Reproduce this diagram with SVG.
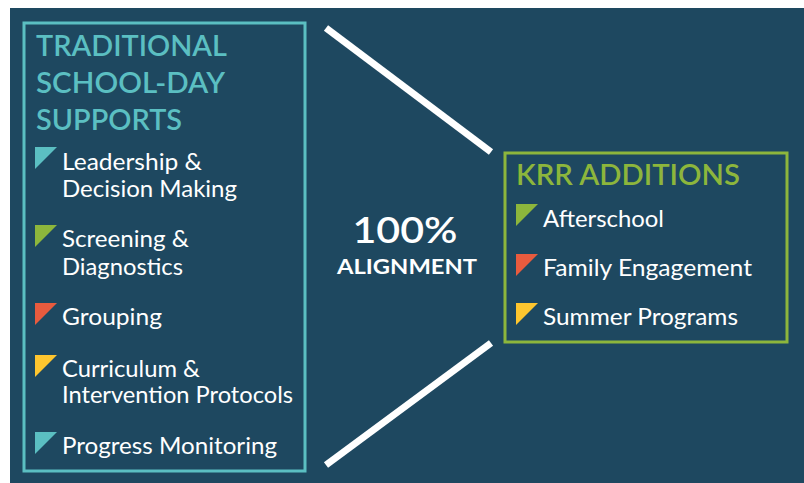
<svg xmlns="http://www.w3.org/2000/svg" width="804" height="483" viewBox="0 0 804 483">
  <defs>
    <style>
      .bg { fill: #1e4860; }
      .frame-teal { fill: none; stroke: #5bbfc2; stroke-width: 3; }
      .frame-green { fill: none; stroke: #8db63c; stroke-width: 3; }
      .link { stroke: #ffffff; stroke-width: 7; stroke-linecap: butt; fill: none; }
      .head { font-family: Lato, "Open Sans", sans-serif; font-size: 28px; font-weight: 600; }
      .head-teal { fill: #5bbfc2; }
      .head-green { fill: #8db63c; }
      .item { font-family: Lato, "Open Sans", sans-serif; font-size: 23px; fill: #ffffff; }
      .big { font-family: Lato, "Open Sans", sans-serif; fill: #ffffff; text-anchor: middle; }
      .teal { fill: #5bbfc2; }
      .green { fill: #8db63c; }
      .red { fill: #e85b3e; }
      .yellow { fill: #fec62f; }
    </style>
  </defs>

  <rect x="0" y="0" width="804" height="483" fill="#ffffff"/>
  <rect class="bg" x="10" y="8" width="794" height="475"/>

  <!-- connectors -->
  <g id="connectors">
    <line class="link" x1="326" y1="28" x2="491" y2="152"/>
    <line class="link" x1="491" y1="343" x2="326" y2="465"/>
  </g>

  <!-- left column: traditional supports -->
  <g id="traditional">
    <rect class="frame-teal" x="24" y="23" width="281" height="448"/>
    <text class="head head-teal" x="36" y="56" textLength="191" lengthAdjust="spacingAndGlyphs">TRADITIONAL</text>
    <text class="head head-teal" x="36" y="93" textLength="189" lengthAdjust="spacingAndGlyphs">SCHOOL-DAY</text>
    <text class="head head-teal" x="36" y="130" textLength="146" lengthAdjust="spacingAndGlyphs">SUPPORTS</text>
  </g>

  <g id="item-leadership">
    <polygon class="teal" points="35,147 57,147 35,169"/>
    <text class="item" x="62" y="170" textLength="140" lengthAdjust="spacingAndGlyphs">Leadership &amp;</text>
    <text class="item" x="62" y="197" textLength="175" lengthAdjust="spacingAndGlyphs">Decision Making</text>
  </g>

  <g id="item-screening">
    <polygon class="green" points="35,225 57,225 35,247"/>
    <text class="item" x="62" y="247" textLength="127" lengthAdjust="spacingAndGlyphs">Screening &amp;</text>
    <text class="item" x="62" y="275" textLength="121" lengthAdjust="spacingAndGlyphs">Diagnostics</text>
  </g>

  <g id="item-grouping">
    <polygon class="red" points="35,303 57,303 35,325"/>
    <text class="item" x="62" y="325" textLength="100" lengthAdjust="spacingAndGlyphs">Grouping</text>
  </g>

  <g id="item-curriculum">
    <polygon class="yellow" points="35,355 57,355 35,377"/>
    <text class="item" x="62" y="377" textLength="138" lengthAdjust="spacingAndGlyphs">Curriculum &amp;</text>
    <text class="item" x="62" y="403" textLength="231" lengthAdjust="spacingAndGlyphs">Intervention Protocols</text>
  </g>

  <g id="item-progress">
    <polygon class="teal" points="35,432 57,432 35,454"/>
    <text class="item" x="62" y="454" textLength="215" lengthAdjust="spacingAndGlyphs">Progress Monitoring</text>
  </g>

  <!-- centre label -->
  <g id="alignment">
    <text class="big" x="405" y="243" font-size="36" font-weight="600" textLength="105" lengthAdjust="spacingAndGlyphs">100%</text>
    <text class="big" x="407" y="274" font-size="21" font-weight="700" textLength="140" lengthAdjust="spacingAndGlyphs">ALIGNMENT</text>
  </g>

  <!-- right column: KRR additions -->
  <g id="krr">
    <rect class="frame-green" x="505" y="153" width="282" height="189"/>
    <text class="head head-green" x="516" y="185" textLength="224" lengthAdjust="spacingAndGlyphs">KRR ADDITIONS</text>
  </g>

  <g id="item-afterschool">
    <polygon class="green" points="516,204 538,204 516,226"/>
    <text class="item" x="543" y="227" textLength="121" lengthAdjust="spacingAndGlyphs">Afterschool</text>
  </g>

  <g id="item-family">
    <polygon class="red" points="516,254 538,254 516,276"/>
    <text class="item" x="543" y="276" textLength="209" lengthAdjust="spacingAndGlyphs">Family Engagement</text>
  </g>

  <g id="item-summer">
    <polygon class="yellow" points="516,303 538,303 516,325"/>
    <text class="item" x="543" y="325" textLength="195" lengthAdjust="spacingAndGlyphs">Summer Programs</text>
  </g>
</svg>
